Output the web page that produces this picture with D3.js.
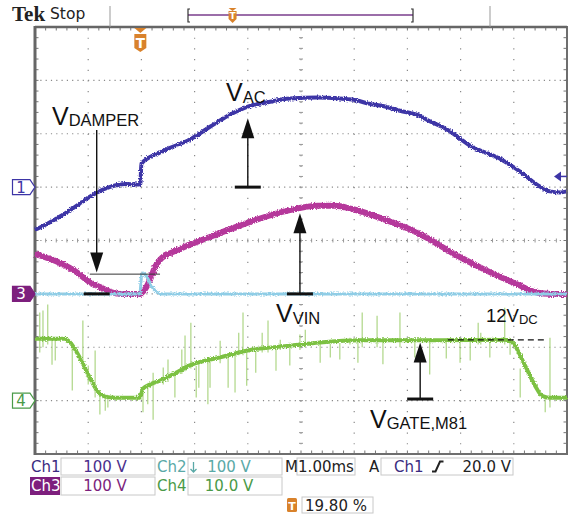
<!DOCTYPE html>
<html><head><meta charset="utf-8">
<script src="https://cdn.jsdelivr.net/npm/d3@7/dist/d3.min.js"></script>
<style>body{margin:0;background:#fff}svg{display:block}</style>
</head><body><svg id="c" width="575" height="519"></svg>
<script>
// time in ms (1.00 ms/div, 10 div), values in volts
const ch1Points = [[0,-80],[0.24,-68],[0.47,-55],[0.75,-37],[1.03,-18],[1.32,-3],[1.5,3],[1.69,6],[1.98,5],[2.0,44],[2.35,65],[2.91,89],[3.29,113],[3.67,136],[4.0,151],[4.42,160],[4.79,166],[5.32,168],[5.73,166],[5.96,164],[6.3,156],[6.58,151],[6.86,143],[7.2,135],[7.45,122],[7.71,110],[8.21,76],[8.78,51],[9.12,29],[9.49,1],[9.68,-8],[9.87,-10],[10,-8]];
const ch2Points = [[0,0],[1.97,0],[2.01,39],[2.09,34],[2.2,13],[2.31,2],[2.4,0],[10,0]];
const ch3Points = [[0,75],[0.47,58],[0.75,43],[1.03,22],[1.22,13],[1.41,4],[1.6,0],[1.97,0],[2.07,9],[2.16,26],[2.26,51],[2.35,64],[2.63,80],[2.91,92],[3.48,114],[4.04,135],[4.79,157],[5.32,165],[5.64,165],[5.96,159],[6.58,139],[7.2,114],[7.84,77],[8.46,45],[9.08,17],[9.45,2],[9.7,0],[10,0]];
const ch4Points = [[0,11.6],[0.56,11.6],[0.66,10.9],[0.85,7.9],[1.03,4.3],[1.18,1.7],[1.32,0.75],[1.5,0.55],[1.97,0.55],[2.03,2.25],[2.16,3.0],[2.35,3.75],[2.63,5.1],[2.91,6.6],[3.48,8.1],[4.0,9.4],[4.79,10.3],[5.36,10.9],[6.11,11.3],[7.61,11.3],[8.83,11.4],[8.97,10.9],[9.21,6.6],[9.4,2.8],[9.53,0.9],[9.68,0.55],[10,0.55]];
// glitch spikes on Ch4: [time, low V, high V]
const ch4Spikes = [[0.09,9.0,16.5],[0.15,10.0,16.9],[0.24,10.5,18.0],[0.32,6.7,11.5],[0.38,7.5,11.5],[0.70,1.9,11],[0.90,7,15.0],[1.00,3,6.6],[1.13,0.6,9.4],[1.22,-2.6,2],[1.32,-1.9,0.5],[1.37,-1.3,0.5],[2.03,-2.2,2],[2.12,-0.7,3],[2.22,-3.6,5.2],[2.41,3,6.2],[2.50,3.5,7.7],[2.63,0.6,5],[2.76,5,9.6],[2.82,5.5,12.2],[2.93,6,14.6],[3.03,0.6,6.5],[3.08,2.4,7],[3.25,-0.7,7.3],[3.29,2.4,7.5],[3.48,7,11.2],[3.63,2.4,8.2],[3.76,1.5,8.5],[3.83,8.5,12.7],[3.91,8.5,16.5],[3.98,2.8,9],[4.15,5.2,9.3],[4.27,9,12.7],[4.38,9,15.0],[4.53,5.6,9.7],[4.61,9.5,11.4],[4.79,6.6,10],[4.98,9.5,12.4],[5.08,10,13.3],[5.36,7.1,10.6],[5.55,8.1,10.7],[5.73,7.7,10.8],[5.92,10.5,11.8],[6.07,7.1,11],[6.15,10,16.5],[6.43,10,15.9],[6.54,6.8,11],[6.86,10,16.5],[7.14,8.1,11],[7.42,4.9,11],[7.73,7.9,11],[7.99,7.1,11],[8.18,7.5,11],[8.33,10.5,14.6],[8.38,10.5,12.7],[8.55,8.1,11],[8.83,10.5,17.4],[8.93,8.6,11],[9.12,0.6,6],[9.59,-2.2,0.5],[9.68,-1.3,11.8]];
// channel settings: [volts/div, ground offset in divisions]
const ch1Set = [100, 1], ch2Set = [100, -1], ch3Set = [100, -1], ch4Set = [10, -3];
const triggerPct = 19.80, triggerLevel = 20.0;
const statusRow1 = ["Ch1","100 V","Ch2","100 V","M","1.00ms","A","Ch1","20.0 V"];
const statusRow2 = ["Ch3","100 V","Ch4","10.0 V"];

const svg = d3.select("#c");
const P = {l:35, r:567, t:27, b:454};
const x = d3.scaleLinear().domain([0,10]).range([P.l,P.r]);
const dv = d3.scaleLinear().domain([-4,4]).range([P.b,P.t]);
const yOf = s => (v => dv(s[1] + v/s[0]));
const y1 = yOf(ch1Set), y2 = yOf(ch2Set), y3 = yOf(ch3Set), y4 = yOf(ch4Set);
const FONT = "'Liberation Sans', Arial, sans-serif";
const SFONT = "'DejaVu Sans', sans-serif";

const defs = svg.append("defs");
const f = defs.append("filter").attr("id","fz").attr("filterUnits","userSpaceOnUse")
  .attr("x",0).attr("y",0).attr("width",575).attr("height",519);
f.append("feTurbulence").attr("type","fractalNoise").attr("baseFrequency","0.8").attr("numOctaves",1).attr("seed",4).attr("result","n");
f.append("feDisplacementMap").attr("in","SourceGraphic").attr("in2","n").attr("scale",4).attr("xChannelSelector","R").attr("yChannelSelector","G");

// grid
const g = svg.append("g");
d3.range(1,10).forEach(i => g.append("line").attr("x1",x(i)).attr("x2",x(i)).attr("y1",P.t).attr("y2",P.b)
  .attr("stroke","#8a8a8a").attr("stroke-width",1.2).attr("stroke-dasharray","1.2,9.47"));
d3.range(-3,4).forEach(i => g.append("line").attr("y1",dv(i)).attr("y2",dv(i)).attr("x1",P.l).attr("x2",P.r)
  .attr("stroke","#8a8a8a").attr("stroke-width",1.2).attr("stroke-dasharray","1.2,4.1"));
d3.range(0,51).forEach(k => {
  const xx = x(k/5);
  g.append("line").attr("x1",xx).attr("x2",xx).attr("y1",dv(0)-2).attr("y2",dv(0)+2).attr("stroke","#999").attr("stroke-width",1);
  g.append("line").attr("x1",xx).attr("x2",xx).attr("y1",P.t).attr("y2",P.t+3.5).attr("stroke","#777").attr("stroke-width",1);
  g.append("line").attr("x1",xx).attr("x2",xx).attr("y1",P.b).attr("y2",P.b-3.5).attr("stroke","#777").attr("stroke-width",1);
});
d3.range(0,41).forEach(k => {
  const yy = dv(-4 + k/5);
  g.append("line").attr("y1",yy).attr("y2",yy).attr("x1",x(5)-2).attr("x2",x(5)+2).attr("stroke","#999").attr("stroke-width",1);
  g.append("line").attr("y1",yy).attr("y2",yy).attr("x1",P.l).attr("x2",P.l+3.5).attr("stroke","#777").attr("stroke-width",1);
  g.append("line").attr("y1",yy).attr("y2",yy).attr("x1",P.r).attr("x2",P.r-3.5).attr("stroke","#777").attr("stroke-width",1);
});
g.append("rect").attr("x",P.l).attr("y",P.t).attr("width",P.r-P.l).attr("height",P.b-P.t)
  .attr("fill","none").attr("stroke","#6e6e6e").attr("stroke-width",2);
g.append("line").attr("x1",P.l).attr("x2",P.l).attr("y1",P.t-1).attr("y2",P.b+1).attr("stroke","#666").attr("stroke-width",3);
g.append("line").attr("x1",P.l).attr("x2",P.r).attr("y1",P.t).attr("y2",P.t).attr("stroke","#666").attr("stroke-width",2.5);

// traces
const line = ys => d3.line().x(d => x(d[0])).y(d => ys(d[1])).curve(d3.curveMonotoneX);
svg.append("g").selectAll("line").data(ch4Spikes).join("line")
  .attr("x1",d=>x(d[0])).attr("x2",d=>x(d[0])).attr("y1",d=>y4(d[1])).attr("y2",d=>y4(d[2]))
  .attr("stroke","#a6d27a").attr("stroke-width",1.1);
const tr = svg.append("g").attr("filter","url(#fz)");
tr.append("path").datum(ch4Points).attr("d",line(y4)).attr("fill","none").attr("stroke","#7cc143").attr("stroke-width",4);
tr.append("path").datum(ch3Points).attr("d",line(y3)).attr("fill","none").attr("stroke","#b5399b").attr("stroke-width",6);
tr.append("path").datum(ch2Points).attr("d",line(y2)).attr("fill","none").attr("stroke","#8fcde6").attr("stroke-width",3);
tr.append("path").datum(ch1Points).attr("d",line(y1)).attr("fill","none").attr("stroke","#3d35a6").attr("stroke-width",4);

// annotations
const an = svg.append("g");
function arrow(t, yBase, yTip, dir) {
  const xx = x(t);
  an.append("line").attr("x1",xx).attr("x2",xx).attr("y1",yBase).attr("y2",yTip + (dir<0? 10: -10)).attr("stroke","#111").attr("stroke-width",1.4);
  const hb = yTip + (dir<0 ? 20 : -20);
  an.append("path").attr("d",`M${xx},${yTip}L${xx-6.5},${hb}L${xx+6.5},${hb}Z`).attr("fill","#111");
}
function bar(t, yy, half) {
  an.append("line").attr("x1",x(t)-half).attr("x2",x(t)+half).attr("y1",yy).attr("y2",yy).attr("stroke","#111").attr("stroke-width",3);
}
arrow(4.0, y1(0), y1(129), -1); bar(4.0, y1(0), 13);
arrow(1.16, 130, y3(40), 1); bar(1.16, y3(0), 13);
an.append("line").attr("x1",x(1.03)).attr("x2",x(2.35)).attr("y1",y3(37)).attr("y2",y3(37)).attr("stroke","#333").attr("stroke-width",1);
arrow(4.98, y3(0), y3(151), -1); bar(4.98, y3(0), 13);
arrow(7.24, y4(0.3), y4(10.9), -1); bar(7.24, y4(0.3), 13);
an.append("line").attr("x1",x(7.76)).attr("x2",x(9.59)).attr("y1",y4(11.4)).attr("y2",y4(11.4))
  .attr("stroke","#111").attr("stroke-width",1.3).attr("stroke-dasharray","6,4");

function label(px, py, main, sub, big, small, dy) {
  const t = an.append("text").attr("x",px).attr("y",py).attr("font-family",FONT).attr("font-size",big).attr("fill","#111");
  t.append("tspan").text(main);
  t.append("tspan").attr("font-size",small).attr("dy",dy).text(sub);
}
label(52,125,"V","DAMPER",25,16.5,1);
label(226,101,"V","AC",25,16.5,2);
label(276,322,"V","VIN",25,16.5,2);
label(486,322,"12V","DC",18.5,13,2);
label(370,428,"V","GATE,M81",25,16.5,1);

function marker(yy, txt, fill, stroke, tc) {
  const m = svg.append("g");
  m.append("path").attr("d",`M12.5,${yy-7.5}H30L35,${yy}L30,${yy+7.5}H12.5Z`).attr("fill",fill).attr("stroke",stroke).attr("stroke-width",1.2);
  m.append("text").attr("x",21).attr("y",yy+5.5).attr("text-anchor","middle").attr("font-family",SFONT).attr("font-size",15).attr("fill",tc).text(txt);
}
marker(y1(0),"1","#fff","#3d35a6","#3d35a6");
marker(y3(0),"3","#7d1f7d","#7d1f7d","#fff");
marker(y4(0),"4","#fff","#4a9a48","#4a9a48");

const ty = y1(triggerLevel);
svg.append("path").attr("d",`M554,${ty}L561,${ty-5}L561,${ty+5}Z`).attr("fill","#3d35a6");
svg.append("line").attr("x1",560).attr("x2",P.r).attr("y1",ty).attr("y2",ty).attr("stroke","#3d35a6").attr("stroke-width",1.5);

function tBadge(cx, top, w, h) {
  const b = svg.append("g");
  b.append("path").attr("d",`M${cx-w/2},${top}H${cx+w/2}V${top+h-4}L${cx},${top+h}L${cx-w/2},${top+h-4}Z`).attr("fill","#d9822b");
  b.append("text").attr("x",cx).attr("y",top+h-4).attr("text-anchor","middle").attr("font-family",SFONT).attr("font-weight","bold").attr("font-size",h*0.75).attr("fill","#fff").text("T");
}
const tx = x(triggerPct/10);
svg.append("path").attr("d",`M${tx-6},${P.t+1}H${tx+6}L${tx},${P.t+6}Z`).attr("fill","#d9822b");
tBadge(tx, 34, 12, 18);

svg.append("text").attr("x",12).attr("y",21).attr("font-family","'Liberation Serif','DejaVu Serif',serif").attr("font-weight","bold").attr("font-size",21).attr("fill","#222").text("Tek");
svg.append("text").attr("x",50).attr("y",19).attr("font-family","'DejaVu Sans',sans-serif").attr("font-size",15.5).attr("fill","#222").text("Stop");
svg.append("line").attr("x1",110).attr("x2",110).attr("y1",6).attr("y2",P.t).attr("stroke","#999").attr("stroke-width",1);
svg.append("line").attr("x1",490).attr("x2",490).attr("y1",6).attr("y2",P.t).attr("stroke","#999").attr("stroke-width",1);
const rb = d3.scaleLinear().domain([0,100]).range([188,413]);
svg.append("line").attr("x1",rb(0)).attr("x2",rb(100)).attr("y1",15).attr("y2",15).attr("stroke","#9b6ea9").attr("stroke-width",2);
svg.append("path").attr("d",`M${rb(0)+2},9H${rb(0)}V22H${rb(0)+2}`).attr("fill","none").attr("stroke","#333").attr("stroke-width",1.2);
svg.append("path").attr("d",`M${rb(100)-2},9H${rb(100)}V22H${rb(100)-2}`).attr("fill","none").attr("stroke","#333").attr("stroke-width",1.2);
const rbx = rb(triggerPct);
svg.append("path").attr("d",`M${rbx-4},8H${rbx+4}L${rbx},11Z`).attr("fill","#d9822b");
tBadge(rbx, 11, 8, 12);

const st = svg.append("g").attr("font-family",SFONT).attr("font-size",15);
function box(x0,x1,y0,y1){ st.append("rect").attr("x",x0).attr("y",y0).attr("width",x1-x0).attr("height",y1-y0).attr("fill","#fff").attr("stroke","#c8c8c8").attr("stroke-width",1); }
function txt(px,py,s,c,anchor){ st.append("text").attr("x",px).attr("y",py).attr("fill",c).attr("text-anchor",anchor||"start").text(s); }
box(61,155,458,475); box(188,282,458,475); box(297,355,458,475); box(381,513,458,475);
box(61,155,477,495); box(188,282,477,495); box(302,373,497,513);
txt(31,472,statusRow1[0],"#3a2b80");
txt(105,472,statusRow1[1],"#4b2f8c","middle");
txt(157,472,statusRow1[2],"#5aa9a7");
st.append("path").attr("d","M193.5,462V472M190.5,469L193.5,472L196.5,469").attr("fill","none").attr("stroke","#5aa9a7").attr("stroke-width",1.3);
txt(229,472,statusRow1[3],"#5aa9a7","middle");
txt(285,472,statusRow1[4],"#222");
txt(326,472,statusRow1[5],"#222","middle");
txt(369,472,statusRow1[6],"#222");
txt(394,472,statusRow1[7],"#3a2b80");
st.append("path").attr("d","M432,471.5H435.5L440,461.5H443.5").attr("fill","none").attr("stroke","#222").attr("stroke-width",2);
txt(511,472,statusRow1[8],"#222","end");
st.append("rect").attr("x",30).attr("y",477).attr("width",30).attr("height",18).attr("fill","#7d1f7d");
txt(31,491,statusRow2[0],"#fff");
txt(105,491,statusRow2[1],"#7d1f7d","middle");
txt(157,491,statusRow2[2],"#4a9a48");
txt(229,491,statusRow2[3],"#4a9a48","middle");
st.append("rect").attr("x",287).attr("y",498).attr("width",10).attr("height",14).attr("rx",1.5).attr("fill","#d9822b");
st.append("text").attr("x",292).attr("y",510).attr("text-anchor","middle").attr("fill","#fff").attr("font-size",11).attr("font-weight","bold").text("T");
txt(305,511,triggerPct.toFixed(2)+" %","#222");
</script></body></html>
